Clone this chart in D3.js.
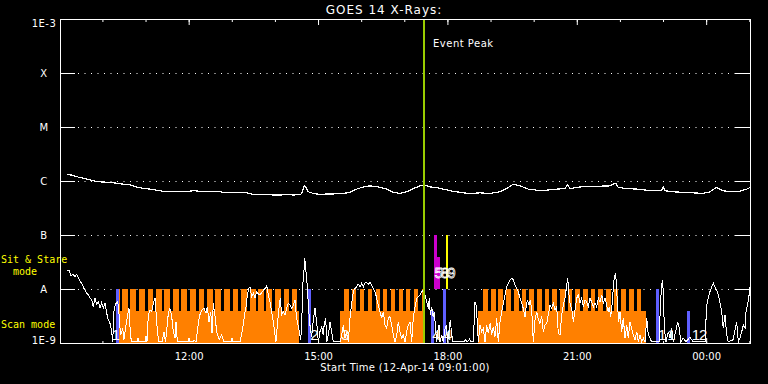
<!DOCTYPE html>
<html><head><meta charset="utf-8">
<script src="https://cdn.jsdelivr.net/npm/d3@7/dist/d3.min.js"></script>
<style>html,body{margin:0;padding:0;background:#000;overflow:hidden}svg{display:block}</style>
</head><body>
<script>
// ---------------- data ----------------
const chartTitle = "GOES 14 X-Rays:";
const axisTitle = "Start Time (12-Apr-14 09:01:00)";
const startStamp = "2014-04-12 09:01:00";
const endStamp = "2014-04-13 01:01:00";
const fluxLevels = [1e-9, 1e-8, 1e-7, 1e-6, 1e-5, 1e-4, 1e-3];
const fluxLabels = ["1E-9", "A", "B", "C", "M", "X", "1E-3"];
const gridLevels = [1e-8, 1e-7, 1e-6, 1e-5, 1e-4];
const eventPeak = "17:27";
const eventLabel = "Event Peak";
const modeLabels = ["Sit & Stare", "mode", "Scan mode"];

// scan mode blocks [start, end, level]
const scanBlocks = [["10:23", "14:33", 0.3], ["15:31", "17:27", 0.3], ["18:43", "22:36", 0.3]];
// individual rasters [start, end]  (level 0.5)
const scanRasters = [
  ["10:23","10:25"],["10:27","10:35"],["10:39","10:47"],["10:51","10:59"],["11:03","11:11"],["11:15","11:23"],
  ["11:26","11:34"],["11:38","11:46"],["11:50","11:58"],["12:02","12:10"],["12:14","12:22"],["12:26","12:34"],
  ["12:37","12:45"],["12:49","12:57"],["13:01","13:09"],["13:13","13:21"],["13:25","13:33"],["13:37","13:45"],
  ["13:48","13:56"],["14:00","14:08"],["14:12","14:20"],["14:24","14:31"],
  ["15:36","15:42:30"],["15:47","15:53:30"],["15:58","16:04:30"],["16:09","16:15:30"],["16:20","16:26:30"],
  ["16:30","16:36:30"],["16:41","16:47:30"],["16:52","16:58:30"],["17:02","17:08:30"],["17:13","17:19:30"],["17:24","17:27"],
  ["18:50","18:56"],["19:01","19:07"],["19:11","19:17"],["19:22","19:28"],["19:33","19:39"],["19:44","19:50"],
  ["19:54","20:00"],["20:05","20:11"],["20:16","20:22"],["20:26","20:32"],["20:37","20:43"],["20:48","20:54"],
  ["20:58","21:04"],["21:09","21:15"],["21:20","21:26"],["21:30","21:36"],["21:41","21:47"],["21:52","21:58"],
  ["22:02","22:08"],["22:13","22:19"],["22:24","22:30"]
];
const rasterLevel = 0.5;
// blue observations [start, end, level]
const blueObs = [["10:19","10:23",0.5],["14:46","14:50",0.5],["17:37","17:41",0.3],["17:54","17:58",0.5],["22:50","22:54",0.5],["23:34","23:38",0.3]];
// sit & stare observations [start, end, top level] (base at 0.5)
const magentaObs = [["17:41","17:45",1.0],["17:45","17:50",0.8]];
const yellowObs = [["17:58","18:01",1.0]];
// observation numbers [label, time]
const obsNumbers = [["1","10:13"],["2","14:49"],["3","15:32"],["4","17:39"],["4","17:55"],["1","22:53"],["1","23:06"],["1","23:40"],["2","23:50"]];
const peakNumbers = [["5","17:42"],["8","17:51"],["9","18:00"]];

// GOES long channel: [minutes after start, log10 flux]
const goesFlux = [[10.2,-5.88],[16.3,-5.89],[23.2,-5.92],[32.4,-5.95],[41.7,-5.98],[51.1,-6.01],[60.2,-6.02],[69.6,-6.03],
[78.9,-6.04],[88.1,-6.06],[97.4,-6.07],[106.7,-6.11],[115.9,-6.14],[125.2,-6.15],[134.5,-6.17],[143.7,-6.19],[153.0,-6.20],
[162.4,-6.20],[171.5,-6.20],[185.5,-6.18],[194.8,-6.19],[204.1,-6.19],[213.3,-6.19],[222.6,-6.20],[231.9,-6.22],[241.1,-6.21],
[250.4,-6.22],[259.8,-6.22],[268.9,-6.25],[278.3,-6.25],[287.6,-6.25],[296.8,-6.26],[306.1,-6.26],[315.4,-6.25],[324.6,-6.26],
[334.9,-6.25],[337.1,-6.20],[339.9,-6.09],[343.2,-6.14],[345.5,-6.20],[352.4,-6.23],[361.7,-6.25],[371.1,-6.24],[380.2,-6.24],
[394.2,-6.23],[403.5,-6.21],[412.8,-6.15],[422.0,-6.11],[431.3,-6.09],[442.8,-6.11],[454.5,-6.15],[463.7,-6.21],[473.0,-6.23],
[482.4,-6.20],[491.5,-6.14],[500.9,-6.09],[507.8,-6.08],[514.8,-6.11],[524.1,-6.12],[533.3,-6.15],[542.6,-6.18],[551.9,-6.20],
[561.1,-6.22],[570.4,-6.23],[584.3,-6.22],[598.3,-6.23],[612.2,-6.20],[621.5,-6.14],[630.7,-6.06],[640.0,-6.09],[651.5,-6.15],
[663.2,-6.17],[677.1,-6.17],[691.1,-6.15],[702.6,-6.14],[705.8,-6.07],[709.6,-6.14],[723.5,-6.11],[742.0,-6.10],[765.2,-6.09],
[769.8,-6.06],[773.2,-6.04],[776.8,-6.12],[788.5,-6.14],[802.4,-6.15],[816.3,-6.17],[830.2,-6.18],[837.1,-6.17],[839.4,-6.11],
[841.7,-6.18],[853.3,-6.20],[867.2,-6.21],[881.1,-6.22],[895.0,-6.23],[904.3,-6.20],[912.7,-6.12],[922.8,-6.18],[932.1,-6.20],
[946.1,-6.19],[955.4,-6.15],[960.0,-6.12]];

// low channel: [minutes after start, log10 value]
const lowChannel = [[10.2,-7.67],[12.5,-7.65],[15.3,-7.76],[17.7,-7.73],[20.9,-7.77],[23.2,-7.73],[25.5,-7.79],[27.8,-7.85],
[31.0,-7.91],[33.4,-7.99],[36.2,-8.06],[39.4,-8.11],[41.7,-8.16],[44.5,-8.22],[46.3,-8.33],[48.7,-8.17],[51.1,-8.28],[53.3,-8.24],
[55.7,-8.35],[58.0,-8.25],[60.2,-8.35],[62.6,-8.26],[65.0,-8.45],[67.2,-8.57],[69.6,-8.64],[71.9,-8.79],[73.3,-8.98],[75.1,-8.42],
[76.9,-8.28],[79.7,-8.24],[81.7,-8.30],[82.5,-8.61],[84.5,-8.85],[87.2,-8.73],[89.0,-8.94],[91.8,-8.67],[94.2,-8.48],[96.0,-8.36],
[97.4,-8.70],[99.2,-8.98],[107.1,-8.98],[108.5,-8.91],[109.9,-8.98],[118.3,-8.98],[119.7,-8.87],[121.0,-8.98],[122.9,-8.48],
[125.2,-8.39],[127.6,-8.42],[129.8,-8.26],[132.2,-8.17],[133.6,-8.42],[135.4,-8.76],[137.3,-8.98],[141.9,-8.98],[144.7,-8.79],
[146.8,-8.98],[150.7,-8.45],[153.0,-8.36],[155.4,-8.51],[157.6,-8.79],[160.0,-8.91],[161.4,-8.61],[163.2,-8.98],[178.1,-8.98],
[179.5,-8.91],[180.9,-8.98],[185.0,-8.98],[186.4,-8.94],[189.2,-8.98],[193.8,-8.51],[197.1,-8.39],[200.3,-8.36],[203.1,-8.45],
[204.9,-8.33],[207.3,-8.61],[209.7,-8.42],[211.5,-8.82],[213.3,-8.26],[215.7,-8.51],[218.0,-8.79],[221.6,-8.94],[225.0,-8.85],
[228.2,-8.98],[237.9,-8.98],[239.3,-8.91],[240.7,-8.98],[250.4,-8.98],[254.2,-8.73],[256.4,-8.51],[258.8,-8.33],[260.6,-8.11],
[262.5,-7.99],[264.3,-7.96],[266.7,-8.14],[268.9,-8.08],[271.3,-8.17],[273.7,-8.05],[276.5,-8.10],[278.3,-8.11],[281.5,-8.05],
[285.2,-7.99],[287.6,-7.94],[289.8,-8.11],[292.2,-8.24],[294.5,-8.42],[296.8,-8.61],[299.1,-8.85],[300.5,-8.98],[302.3,-8.67],
[304.7,-8.36],[306.5,-8.17],[308.5,-8.48],[310.7,-8.42],[313.0,-8.48],[315.4,-8.36],[317.6,-8.26],[320.0,-8.30],[322.4,-8.36],
[324.6,-8.30],[327.0,-8.20],[328.3,-8.42],[330.2,-8.61],[332.9,-8.79],[334.9,-8.94],[336.3,-8.67],[337.7,-7.93],[339.1,-7.74],
[340.5,-7.43],[341.8,-7.62],[343.2,-7.80],[344.6,-8.08],[346.4,-8.45],[348.2,-8.73],[350.2,-8.88],[352.4,-8.57],[354.8,-8.36],
[357.1,-8.61],[359.4,-8.98],[361.7,-8.79],[364.1,-8.70],[366.3,-8.85],[367.7,-8.64],[369.7,-8.54],[371.1,-8.98],[373.3,-8.85],
[375.7,-8.61],[378.0,-8.79],[380.2,-8.98],[389.6,-8.98],[391.9,-8.85],[394.2,-8.67],[396.5,-8.91],[398.9,-8.82],[401.1,-8.98],
[403.5,-8.54],[405.8,-8.26],[408.1,-8.05],[410.4,-7.99],[412.8,-7.96],[415.0,-7.91],[417.4,-7.96],[419.8,-7.89],[422.0,-7.96],
[424.3,-7.89],[426.7,-7.88],[428.9,-7.91],[431.3,-7.88],[433.7,-7.93],[435.9,-7.99],[438.3,-8.05],[440.6,-8.17],[442.8,-8.30],
[445.2,-8.42],[447.6,-8.54],[449.8,-8.42],[452.2,-8.67],[454.5,-8.73],[456.8,-8.54],[459.1,-8.51],[461.5,-8.67],[463.7,-8.85],
[466.1,-8.98],[468.5,-8.85],[470.7,-8.61],[473.0,-8.79],[475.4,-8.91],[477.6,-8.85],[480.0,-8.98],[482.4,-8.79],[484.6,-8.67],
[487.0,-8.61],[489.3,-8.98],[491.5,-8.54],[493.9,-8.33],[496.3,-8.17],[498.5,-8.14],[500.9,-8.11],[503.2,-8.05],[505.5,-8.02],
[507.8,-8.11],[510.2,-8.24],[512.4,-8.36],[513.8,-8.17],[515.2,-8.48],[517.2,-8.33],[519.0,-8.51],[520.8,-8.42],[522.7,-8.76],
[524.1,-8.98],[525.5,-8.79],[527.3,-8.67],[528.7,-8.98],[531.1,-8.85],[533.3,-8.98],[535.7,-8.73],[537.5,-8.67],[539.4,-8.98],
[541.2,-8.79],[543.0,-8.57],[545.0,-8.85],[546.8,-8.98],[562.1,-8.98],[564.4,-8.94],[566.3,-8.98],[569.7,-8.93],[571.8,-8.98],
[575.0,-8.98],[577.4,-8.24],[578.8,-8.30],[580.2,-8.54],[582.0,-8.98],[584.3,-8.67],[586.7,-8.79],[588.9,-8.73],[591.3,-8.98],
[593.7,-8.67],[595.9,-8.82],[598.3,-8.64],[600.6,-8.85],[602.8,-8.70],[605.2,-8.88],[607.6,-8.54],[609.8,-8.98],[612.2,-8.61],
[614.5,-8.42],[616.8,-8.26],[619.1,-8.11],[621.5,-7.96],[623.7,-7.89],[626.1,-7.83],[628.5,-7.80],[630.7,-7.83],[633.0,-7.93],
[635.4,-7.99],[637.6,-8.05],[640.0,-8.17],[642.4,-8.26],[644.6,-8.36],[647.0,-8.51],[648.3,-8.36],[650.2,-8.20],[652.5,-8.30],
[654.3,-8.20],[656.3,-8.39],[658.5,-8.98],[660.9,-8.57],[663.2,-8.42],[665.5,-8.57],[667.8,-8.64],[670.2,-8.51],[672.4,-8.79],
[674.8,-8.67],[677.1,-8.64],[679.4,-8.48],[681.7,-8.30],[684.1,-8.36],[686.3,-8.26],[688.7,-8.39],[691.1,-8.33],[693.3,-8.82],
[695.7,-8.85],[698.0,-8.48],[700.3,-8.30],[702.6,-8.17],[705.0,-7.93],[706.4,-7.80],[708.2,-8.11],[710.0,-8.30],[712.0,-8.36],
[714.2,-8.61],[716.5,-8.39],[718.9,-8.17],[721.1,-8.11],[723.5,-8.26],[725.8,-8.17],[728.1,-8.33],[730.4,-8.20],[732.8,-8.24],
[735.0,-8.33],[737.4,-8.17],[739.7,-8.24],[742.0,-8.33],[744.3,-8.26],[746.7,-8.33],[748.9,-8.17],[751.3,-8.24],[753.7,-8.11],
[755.9,-8.26],[758.3,-8.17],[760.6,-8.30],[762.8,-8.42],[764.2,-8.33],[766.2,-8.51],[768.0,-8.30],[769.8,-7.99],[771.2,-7.77],
[772.6,-7.73],[774.0,-7.86],[775.4,-8.24],[777.3,-8.61],[779.1,-8.42],[781.5,-8.79],[783.7,-8.54],[786.1,-8.91],[788.5,-8.67],
[790.7,-8.91],[793.0,-8.61],[795.4,-8.73],[797.6,-8.85],[800.0,-8.94],[802.4,-8.79],[804.6,-8.98],[807.0,-8.85],[809.3,-8.98],
[811.5,-8.91],[813.9,-8.98],[816.3,-8.54],[818.5,-8.85],[820.9,-8.91],[823.2,-8.98],[833.4,-8.98],[835.8,-8.17],[838.0,-7.83],
[839.4,-8.05],[840.8,-8.73],[843.1,-8.98],[846.3,-8.79],[848.7,-8.91],[851.0,-8.73],[853.3,-8.98],[859.4,-8.61],[861.6,-8.73],
[863.6,-8.98],[867.2,-8.91],[870.9,-8.98],[876.5,-8.89],[880.7,-8.98],[897.4,-8.98],[899.7,-8.30],[902.0,-8.17],[904.3,-8.05],
[906.7,-7.96],[908.9,-7.89],[911.3,-7.96],[913.6,-8.02],[915.9,-8.11],[918.3,-8.26],[920.6,-8.42],[922.8,-8.73],[925.2,-8.48],
[927.6,-8.85],[929.8,-8.98],[936.3,-8.94],[941.5,-8.61],[943.7,-8.98],[946.1,-8.91],[948.5,-8.79],[950.7,-8.67],[953.1,-8.73],
[954.5,-8.42],[956.3,-8.30],[958.2,-8.17],[960.0,-7.96]];

// ---------------- drawing ----------------
const W = 768, H = 384;
const P = {left: 60, right: 750, top: 19, bottom: 343};
const parseStamp = d3.timeParse("%Y-%m-%d %H:%M:%S");
const t0 = parseStamp(startStamp), t1 = parseStamp(endStamp);
function clock(s) {
  const p = s.split(":").map(Number);
  const d = new Date(+t0);
  d.setHours(p[0], p[1], p[2] || 0, 0);
  if (p[0] < 9) d.setDate(d.getDate() + 1);
  return d;
}
const afterStart = m => new Date(+t0 + m * 60000);

const x = d3.scaleTime().domain([t0, t1]).range([P.left, P.right]);
const y = d3.scaleLog().domain([1e-9, 1e-3]).range([P.bottom, P.top]);
const mode = d3.scaleLinear().domain([0, 1]).range([y(1e-9), y(1e-7)]);
const xr = t => Math.round(x(t));

const svg = d3.select("body").append("svg").attr("width", W).attr("height", H);
svg.append("rect").attr("width", W).attr("height", H).attr("fill", "#000");
svg.append("defs").append("clipPath").attr("id", "plot")
  .append("rect").attr("x", P.left).attr("y", P.top).attr("width", P.right - P.left).attr("height", P.bottom - P.top + 1);

const FONT = "DejaVu Sans, sans-serif";

// title
svg.append("text").attr("x", 384).attr("y", 14).attr("text-anchor", "middle")
  .attr("fill", "#fff").attr("font-family", FONT).attr("font-size", 12).attr("letter-spacing", 1)
  .text(chartTitle);

// dotted grid
svg.append("g").selectAll("line").data(gridLevels).join("line")
  .attr("x1", P.left + 18).attr("x2", P.right - 15)
  .attr("y1", d => Math.round(y(d)) + 0.5).attr("y2", d => Math.round(y(d)) + 0.5)
  .attr("stroke", "#fff").attr("stroke-width", 1).attr("stroke-dasharray", "1,5.5");

// y axes
const yl = svg.append("g").attr("transform", `translate(${P.left},0)`)
  .call(d3.axisLeft(y).tickValues(fluxLevels).tickSizeInner(-15).tickSizeOuter(0)
    .tickFormat((d, i) => fluxLabels[i]));
yl.select(".domain").remove();
yl.selectAll("line").attr("stroke", "#fff");
yl.selectAll("text").attr("x", -16).attr("text-anchor", "middle").attr("fill", "#fff")
  .attr("font-family", FONT).attr("font-size", 10).attr("letter-spacing", 0.5)
  .attr("dy", (d, i) => i === fluxLevels.length - 1 ? "0.77em" : (i === 0 ? "0em" : "0.36em"));

const yr = svg.append("g").attr("transform", `translate(${P.right},0)`)
  .call(d3.axisRight(y).tickValues(fluxLevels).tickSizeInner(-15).tickSizeOuter(0).tickFormat(""));
yr.select(".domain").remove();
yr.selectAll("line").attr("stroke", "#fff");

// x axes: minor hourly ticks and major 3-hourly ticks
function xAxes(gen, ty, minorLen, majorLen, labels) {
  const gm = svg.append("g").attr("transform", `translate(0,${ty})`)
    .call(gen(x).ticks(d3.timeHour.every(1)).tickSizeInner(minorLen).tickSizeOuter(0).tickFormat(""));
  gm.select(".domain").remove();
  gm.selectAll("line").attr("stroke", "#fff");
  const gM = svg.append("g").attr("transform", `translate(0,${ty})`)
    .call(gen(x).ticks(d3.timeHour.every(3)).tickSizeInner(majorLen).tickSizeOuter(0).tickPadding(9)
      .tickFormat(labels ? d3.timeFormat("%H:%M") : ""));
  gM.select(".domain").remove();
  gM.selectAll("line").attr("stroke", "#fff");
  gM.selectAll("text").attr("fill", "#fff").attr("font-family", FONT).attr("font-size", 10);
}
xAxes(d3.axisBottom, P.bottom + 1, -3, -6, true);
xAxes(d3.axisTop, P.top, -3, -6, false);

// axis title
svg.append("text").attr("x", (P.left + P.right) / 2).attr("y", 371).attr("text-anchor", "middle")
  .attr("fill", "#fff").attr("font-family", FONT).attr("font-size", 10).attr("letter-spacing", 0.3)
  .text(axisTitle);

// mode labels
const MONO = "DejaVu Sans Mono, monospace";
svg.append("text").attr("x", 1).attr("y", 263).attr("fill", "#ffff00").attr("font-family", MONO).attr("font-size", 10).text(modeLabels[0]);
svg.append("text").attr("x", 13).attr("y", 275).attr("fill", "#ffff00").attr("font-family", MONO).attr("font-size", 10).text(modeLabels[1]);
svg.append("text").attr("x", 1).attr("y", 328).attr("fill", "#ffff00").attr("font-family", MONO).attr("font-size", 10).text(modeLabels[2]);

const plot = svg.append("g").attr("clip-path", "url(#plot)");
const ORANGE = "#ff8000", BLUE = "#5f5fff", MAGENTA = "#cc00cc", YELLOW = "#ffff00", GREEN = "#99cc00";

// scan blocks
plot.append("g").selectAll("rect").data(scanBlocks).join("rect")
  .attr("x", d => xr(clock(d[0]))).attr("width", d => xr(clock(d[1])) - xr(clock(d[0])))
  .attr("y", d => Math.round(mode(d[2]))).attr("height", d => Math.round(mode(0)) - Math.round(mode(d[2])))
  .attr("fill", ORANGE).attr("shape-rendering", "crispEdges");
plot.append("g").selectAll("rect").data(scanRasters).join("rect")
  .attr("x", d => xr(clock(d[0]))).attr("width", d => Math.max(1, xr(clock(d[1])) - xr(clock(d[0]))))
  .attr("y", Math.round(mode(rasterLevel))).attr("height", Math.round(mode(0)) - Math.round(mode(rasterLevel)))
  .attr("fill", ORANGE).attr("shape-rendering", "crispEdges");

// blue observations
plot.append("g").selectAll("rect").data(blueObs).join("rect")
  .attr("x", d => xr(clock(d[0]))).attr("width", d => xr(clock(d[1])) - xr(clock(d[0])))
  .attr("y", d => Math.round(mode(d[2]))).attr("height", d => Math.round(mode(0)) - Math.round(mode(d[2])))
  .attr("fill", BLUE).attr("shape-rendering", "crispEdges");
// magenta & yellow (sit & stare)
function floatBars(data, color) {
  plot.append("g").selectAll("rect").data(data).join("rect")
    .attr("x", d => xr(clock(d[0]))).attr("width", d => xr(clock(d[1])) - xr(clock(d[0])))
    .attr("y", d => Math.round(mode(d[2]))).attr("height", d => Math.round(mode(0.5)) - Math.round(mode(d[2])))
    .attr("fill", color).attr("shape-rendering", "crispEdges");
}
floatBars(magentaObs, MAGENTA);
floatBars(yellowObs, YELLOW);

// lines
const lineGen = d3.line().x(d => x(afterStart(d[0]))).y(d => y(Math.pow(10, d[1])));
plot.append("path").datum(lowChannel).attr("d", lineGen).attr("fill", "none")
  .attr("stroke", "#fff").attr("stroke-width", 1).attr("shape-rendering", "crispEdges");
plot.append("path").datum(goesFlux).attr("d", lineGen).attr("fill", "none")
  .attr("stroke", "#fff").attr("stroke-width", 1.2).attr("shape-rendering", "crispEdges");

// event peak line
const ex = xr(clock(eventPeak));
svg.append("line").attr("x1", ex).attr("x2", ex).attr("y1", P.top).attr("y2", P.bottom + 1)
  .attr("stroke", GREEN).attr("stroke-width", 2);
svg.append("text").attr("x", ex + 9).attr("y", 47).attr("fill", "#fff").attr("font-family", FONT)
  .attr("font-size", 10).attr("letter-spacing", 0.5).text(eventLabel);

// observation numbers
plot.append("g").selectAll("text").data(obsNumbers).join("text")
  .attr("x", d => x(clock(d[1]))).attr("y", mode(0.03))
  .attr("fill", "#fff").attr("font-family", "Liberation Sans, sans-serif").attr("font-size", 15).text(d => d[0]);
// tightly packed numbers near the peak, drawn as one text starting at the first time
plot.append("text").attr("x", x(clock(peakNumbers[0][1]))).attr("y", mode(0.6))
  .attr("fill", "none").attr("stroke", "#fff").attr("stroke-width", 0.8).attr("letter-spacing", -2)
  .attr("font-family", "Liberation Sans, sans-serif").attr("font-size", 15)
  .text(peakNumbers.map(d => d[0]).join(""));

// frame
svg.append("rect").attr("x", P.left + 0.5).attr("y", P.top + 0.5)
  .attr("width", P.right - P.left).attr("height", P.bottom - P.top)
  .attr("fill", "none").attr("stroke", "#fff").attr("stroke-width", 1);
</script>
</body></html>
